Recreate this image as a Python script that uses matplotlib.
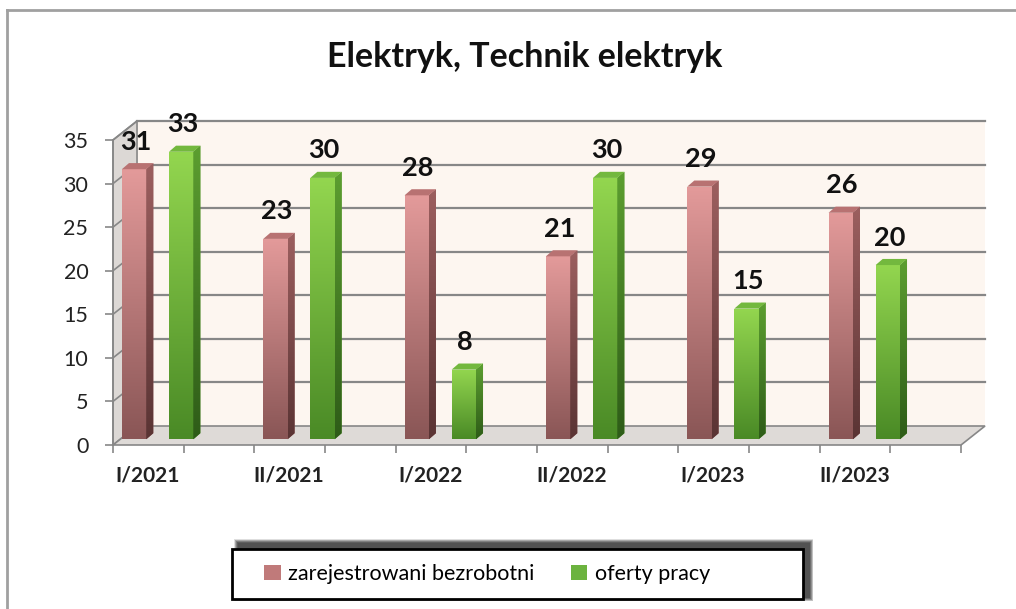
import numpy as np
import matplotlib
matplotlib.use("Agg")
import matplotlib.pyplot as plt
from matplotlib.patches import Polygon, Rectangle, Patch
from matplotlib.colors import LinearSegmentedColormap
from matplotlib.lines import Line2D

plt.rcParams['font.family'] = ['Lato', 'DejaVu Sans']

# data
categories = ["I/2021", "II/2021", "I/2022", "II/2022", "I/2023", "II/2023"]
bezrobotni = [31, 23, 28, 21, 29, 26]
oferty = [33, 30, 8, 30, 15, 20]
series_names = ["zarejestrowani bezrobotni", "oferty pracy"]

# colours: (front top, front bottom, side top, side bottom, top face)
red_cols = ("#e39a9a", "#8a5656", "#9c5f5f", "#5a3434", "#b87272")
green_cols = ("#93d64f", "#4a8a26", "#5c9e30", "#2e5c18", "#73b83e")

# pseudo 3d geometry (data units)
wall_dx, wall_dy = 0.17, 2.18   # depth of floor / back wall
bar_dx, bar_dy = 0.05, 0.7      # depth of each bar
bar_w = 0.172
bar_base = 0.65
offsets = [0.063, 0.396]
grid_col = "#878787"

fig = plt.figure(figsize=(10.16, 6.09), dpi=100)
ax = fig.add_axes([113/1016, (609-445)/609, 848/1016, 305/609])
n = len(categories)

# walls
ax.add_patch(Polygon([(wall_dx, wall_dy), (n+wall_dx, wall_dy), (n+wall_dx, 35+wall_dy), (wall_dx, 35+wall_dy)],
                     closed=True, fc="#fdf6f0", ec="none", zorder=0, clip_on=False))
ax.add_patch(Polygon([(0, 0), (wall_dx, wall_dy), (wall_dx, 35+wall_dy), (0, 35)],
                     closed=True, fc="#dcd8d5", ec=grid_col, lw=1.2, zorder=0.5, clip_on=False))
ax.add_patch(Polygon([(0, 0), (n, 0), (n+wall_dx, wall_dy), (wall_dx, wall_dy)],
                     closed=True, fc="#dedad7", ec=grid_col, lw=1.2, zorder=0.5, clip_on=False))
for v in range(5, 40, 5):
    ax.plot([wall_dx, n+wall_dx], [v+wall_dy, v+wall_dy], color=grid_col, lw=1.6, zorder=1, clip_on=False)
    ax.plot([0, wall_dx], [v, v+wall_dy], color=grid_col, lw=1.2, zorder=1, clip_on=False)


def gradient_fill(patch, x0, x1, y0, y1, c_top, c_bot, z):
    cmap = LinearSegmentedColormap.from_list("g", [c_bot, c_top])
    grad = np.linspace(0, 1, 100).reshape(-1, 1)
    im = ax.imshow(grad, extent=[x0, x1, y0, y1], origin="lower", aspect="auto",
                   cmap=cmap, zorder=z, interpolation="bilinear")
    im.set_clip_path(patch)


def draw_bar(x0, val, cols, z):
    y0 = bar_base
    y1 = bar_base + val
    x1 = x0 + bar_w
    front = ax.bar(x0, val, width=bar_w, bottom=y0, align="edge", color=cols[0],
                   edgecolor="none", zorder=z)[0]
    gradient_fill(front, x0, x1, y0, y1, cols[0], cols[1], z + 0.01)
    side = Polygon([(x1, y0), (x1+bar_dx, y0+bar_dy), (x1+bar_dx, y1+bar_dy), (x1, y1)],
                   closed=True, fc=cols[2], ec="none", zorder=z)
    ax.add_patch(side)
    gradient_fill(side, x1, x1+bar_dx, y0, y1+bar_dy, cols[2], cols[3], z + 0.01)
    ax.add_patch(Polygon([(x0, y1), (x1, y1), (x1+bar_dx, y1+bar_dy), (x0+bar_dx, y1+bar_dy)],
                         closed=True, fc=cols[4], ec="none", zorder=z + 0.02))
    ax.annotate(str(val), (x0 + bar_w/2 + 0.01, y1), xytext=(0, 14), textcoords="offset points",
                ha="center", va="baseline", fontsize=19.5, fontweight="bold", color="#111111",
                zorder=10, annotation_clip=False)


for i in range(n):
    draw_bar(i + offsets[0], bezrobotni[i], red_cols, 3)
    draw_bar(i + offsets[1], oferty[i], green_cols, 3)

ax.set_xlim(0, n)
ax.set_ylim(0, 35)
for s in ["top", "right", "bottom"]:
    ax.spines[s].set_visible(False)
ax.spines["left"].set_color(grid_col)
ax.spines["left"].set_linewidth(1.2)
ax.patch.set_visible(False)

ax.set_yticks(range(0, 40, 5))
ax.tick_params(axis="y", direction="out", length=5.8, width=1.2, color=grid_col,
               labelsize=15.5, pad=12, labelcolor="#222222")
ax.set_xticks(np.arange(n) + 0.245)
ax.set_xticklabels(categories, fontsize=15, fontweight="bold", color="#222222")
ax.set_xticks(np.arange(0, n + 0.01, 0.5), minor=True)
ax.tick_params(axis="x", which="major", length=0, pad=15)
ax.tick_params(axis="x", which="minor", direction="out", length=5.8, width=1.2, color=grid_col)

# title
fig.text(525/1016, 1 - 57/609, "Elektryk, Technik elektryk", ha="center", va="center",
         fontsize=24.5, fontweight="bold", color="#111111")

# outer border
fig.add_artist(Line2D([7/1016, 1], [1 - 10/609, 1 - 10/609], color="#a0a0a0", lw=2))
fig.add_artist(Line2D([7/1016, 7/1016], [0, 1 - 10/609], color="#a0a0a0", lw=2))

# legend box with shadow (offset up and right)
lx0, ly0, lw_, lh = 232/1016, (609-599)/609, 571/1016, 50/609
for k in range(8, 0, -1):
    fig.add_artist(Rectangle((lx0 + (6 - k/2)/1016, ly0 + (2 - k/2)/609),
                             lw_ + k/1016, lh + (4 + k)/609, transform=fig.transFigure,
                             fc="black", ec="none", alpha=0.13))
fig.add_artist(Rectangle((lx0, ly0), lw_, lh, transform=fig.transFigure,
                         fc="white", ec="black", lw=2))
handles = [Patch(fc="#c07a7a", ec="none"), Patch(fc="#6cb33f", ec="none")]
fig.legend(handles, series_names, loc="center left", bbox_to_anchor=(245/1016, 1 - 574/609),
           ncol=2, frameon=False, fontsize=15.5, handlelength=0.75, handleheight=0.75,
           handletextpad=0.35, columnspacing=1.7)

fig.savefig("out.png", dpi=100)
